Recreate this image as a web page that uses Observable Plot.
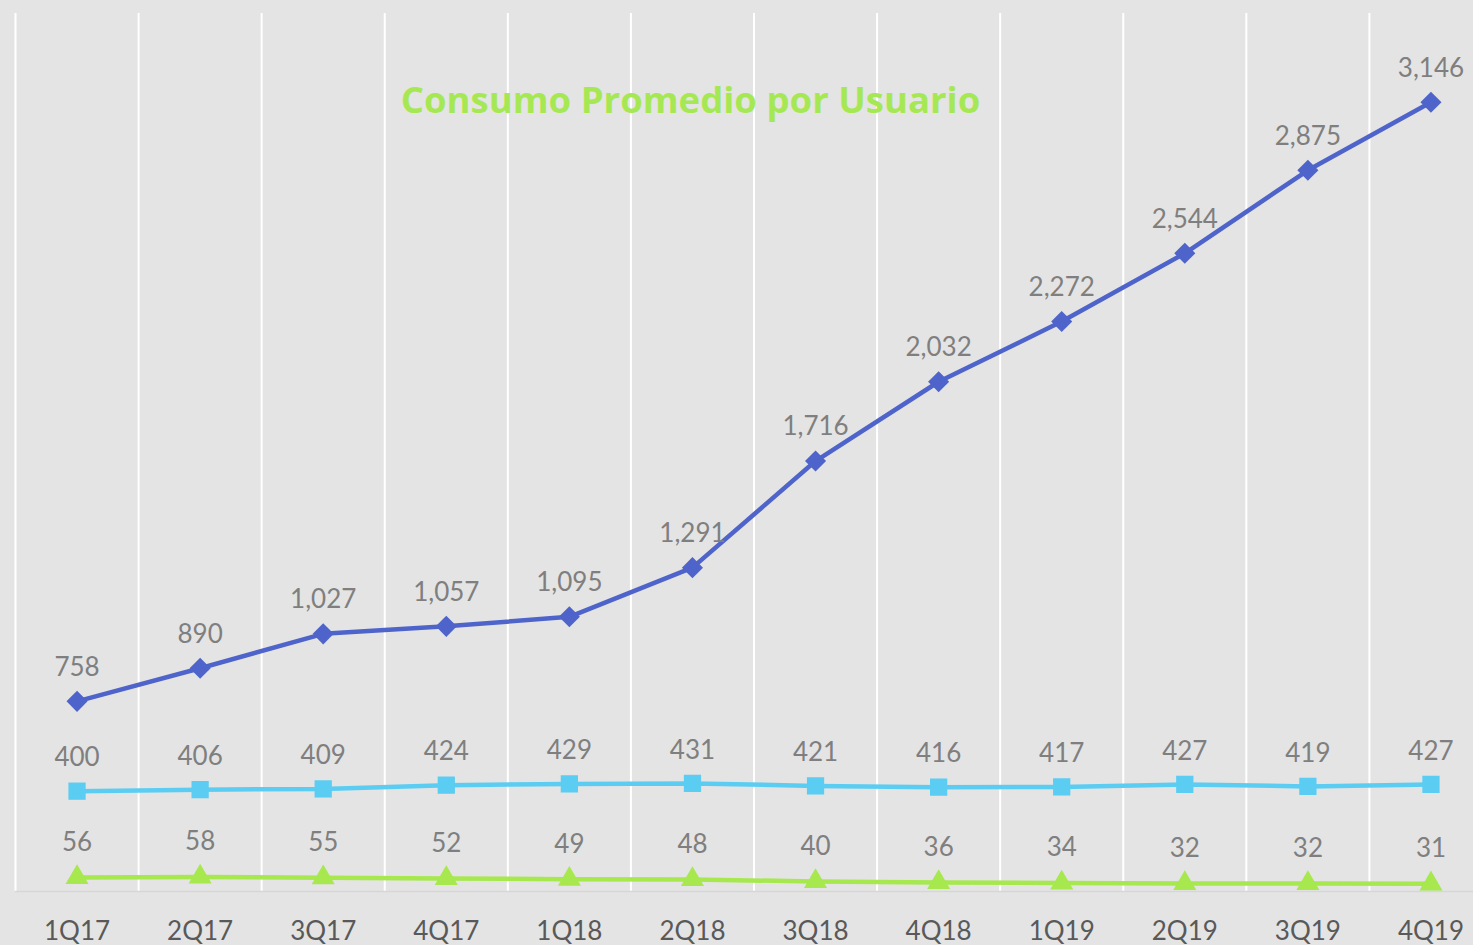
<!DOCTYPE html>
<html>
<head>
<meta charset="utf-8">
<script src="https://cdn.jsdelivr.net/npm/d3@7"></script>
<script src="https://cdn.jsdelivr.net/npm/@observablehq/plot@0.6"></script>
<style>
  html, body { margin: 0; padding: 0; background: #e4e4e4; overflow: hidden; }
  #chart svg { display: block; max-width: none !important; }
</style>
</head>
<body>
<div id="chart"></div>
<script>
const quarters = ["1Q17","2Q17","3Q17","4Q17","1Q18","2Q18","3Q18","4Q18","1Q19","2Q19","3Q19","4Q19"];
const serieAzul = [758, 890, 1027, 1057, 1095, 1291, 1716, 2032, 2272, 2544, 2875, 3146];
const serieCeleste = [400, 406, 409, 424, 429, 431, 421, 416, 417, 427, 419, 427];
const serieVerde = [56, 58, 55, 52, 49, 48, 40, 36, 34, 32, 32, 31];
const title = "Consumo Promedio por Usuario";

const toRows = (vals) => vals.map((v, i) => ({i, q: quarters[i], v}));
const azul = toRows(serieAzul), celeste = toRows(serieCeleste), verde = toRows(serieVerde);
const idx = quarters.map((_, i) => i);
const fmt = d3.format(",");

const cBlue = "#4f64cb", cLight = "#5bcdf2", cGreen = "#a6e84e";
const labelFont = "Lato, 'Open Sans', sans-serif";

const chart = Plot.plot({
  width: 1492,
  height: 945,
  marginLeft: 15,
  marginRight: 0,
  marginTop: 13,
  marginBottom: 54,
  style: {background: "#e4e4e4", fontFamily: labelFont, maxWidth: "none"},
  x: {domain: [-0.5, 11.5], axis: null, label: null},
  y: {domain: [0, 3500], axis: null, label: null},
  marks: [
    Plot.ruleX(idx, {x: d => d - 0.5, stroke: "#ffffff", strokeWidth: 2}),
    Plot.ruleY([0], {stroke: "#d6d6d6", strokeWidth: 1.5}),
    Plot.axisX(idx, {tickSize: 0, tickPadding: 30, label: null, tickFormat: d => quarters[d], fontSize: 26, fill: "#595959", letterSpacing: "2px"}),
    Plot.text([title], {frameAnchor: "top-left", dx: 675, dy: 88, text: d => d, fontSize: 36.5, fontWeight: "bold", fill: "#a6e853", fontFamily: "'Open Sans', sans-serif", textAnchor: "middle", lineAnchor: "middle"}),
    Plot.line(verde, {x: "i", y: "v", stroke: cGreen, strokeWidth: 4.5}),
    Plot.line(celeste, {x: "i", y: "v", stroke: cLight, strokeWidth: 4.5}),
    Plot.line(azul, {x: "i", y: "v", stroke: cBlue, strokeWidth: 4.5}),
    Plot.dot(verde, {x: "i", y: "v", symbol: "triangle2", r: 11, fill: cGreen}),
    Plot.dot(celeste, {x: "i", y: "v", symbol: "square2", r: 11, fill: cLight}),
    Plot.dot(azul, {x: "i", y: "v", symbol: "diamond2", r: 9.5, fill: cBlue}),
    Plot.text(verde, {x: "i", y: "v", text: d => fmt(d.v), dy: -35, fontSize: 26, fill: "#7f7f7f", lineAnchor: "middle"}),
    Plot.text(celeste, {x: "i", y: "v", text: d => fmt(d.v), dy: -33, fontSize: 26, fill: "#7f7f7f", lineAnchor: "middle"}),
    Plot.text(azul, {x: "i", y: "v", text: d => fmt(d.v), dy: -34, fontSize: 26, fill: "#7f7f7f", lineAnchor: "middle"})
  ]
});
chart.style.maxWidth = "none";
document.getElementById("chart").appendChild(chart);
</script>
</body>
</html>
